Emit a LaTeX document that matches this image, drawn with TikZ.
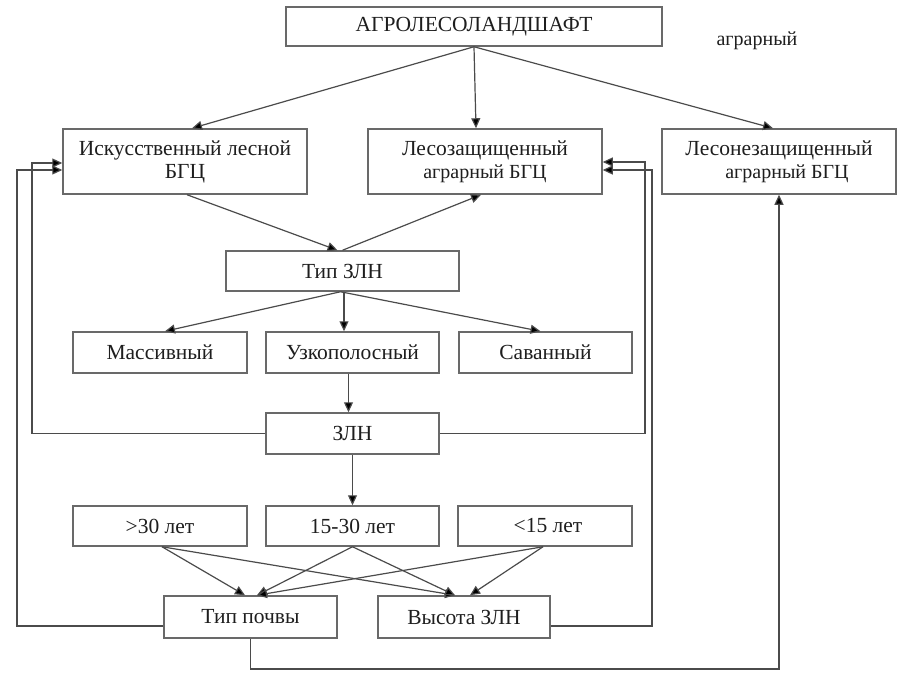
\documentclass[tikz,border=0pt]{standalone}
\usepackage{fontspec}
\setmainfont{Liberation Serif}
\usetikzlibrary{arrows.meta}
\definecolor{boxc}{RGB}{105,105,105}
\definecolor{linec}{RGB}{75,75,75}
\definecolor{textc}{RGB}{30,30,30}
\begin{document}
\begin{tikzpicture}[x=1pt,y=-1pt,
  box/.style={draw=boxc, line width=1.5pt, rectangle, inner sep=0pt, align=center,
     text=textc, font=\fontsize{21.5}{22}\selectfont},
  arr/.style={draw=linec, line width=1.2pt, -{Triangle[length=10pt,width=9pt,fill=black]}},
  ln/.style={draw=linec, line width=1.2pt}]
\useasboundingbox (0,0) rectangle (903,677);

\node[box, minimum width=376pt, minimum height=39pt] (top) at (474,26.5) {АГРОЛЕСОЛАНДШАФТ};
\node[text=textc, font=\fontsize{20}{20}\selectfont] (agr) at (757,41) {аграрный};

\node[box, minimum width=244pt, minimum height=65pt] (iskus) at (185,161.5) {Искусственный лесной\\[1pt]БГЦ};
\node[box, minimum width=234pt, minimum height=65pt] (lesoz) at (485,161.5) {Лесозащищенный\\[1pt]{\fontsize{20}{20}\selectfont аграрный БГЦ}};
\node[box, minimum width=234pt, minimum height=65pt] (lesonez) at (779,161.5) {Лесонезащищенный\\[1pt]{\fontsize{20}{20}\selectfont\hspace*{16pt}аграрный БГЦ}};

\node[box, minimum width=233pt, minimum height=40pt] (tipzln) at (342.5,271) {Тип ЗЛН};

\node[box, minimum width=174pt, minimum height=41pt] (mass) at (160,352.5) {Массивный};
\node[box, minimum width=173pt, minimum height=41pt] (uzko) at (352.5,352.5) {Узкополосный};
\node[box, minimum width=173pt, minimum height=41pt] (savan) at (545.5,352.5) {Саванный};

\node[box, minimum width=173pt, minimum height=41pt] (zln) at (352.5,433.5) {ЗЛН};

\node[box, minimum width=174pt, minimum height=40pt] (g30) at (160,526) {>30 лет};
\node[box, minimum width=173pt, minimum height=40pt] (m15) at (352.5,526) {15-30 лет};
\node[box, minimum width=174pt, minimum height=40pt] (l15) at (545,526) {\hspace*{6pt}<15 лет};

\node[box, minimum width=173pt, minimum height=42pt] (tippoch) at (250.5,617) {Тип почвы};
\node[box, minimum width=172pt, minimum height=42pt] (vys) at (464,617) {Высота ЗЛН};

% coordinates for feedback lines
\coordinate (L1) at (32,433.5);
\coordinate (L2) at (17,626);
\coordinate (R1) at (645,433.5);
\coordinate (R2) at (652,626);
\coordinate (B1) at (250.5,669);

% top arrows
\draw[arr] (top.south) -- ([xshift=7pt]iskus.north);
\draw[arr] (top.south) -- ([xshift=-9pt]lesoz.north);
\draw[arr] (top.south) -- ([xshift=-6pt]lesonez.north);

% to/from Tip ZLN
\draw[arr] ([xshift=2pt]iskus.south) -- ([xshift=-5pt]tipzln.north);
\draw[arr] (tipzln.north) -- ([xshift=-4pt]lesoz.south);

\draw[arr] ([xshift=-2pt]tipzln.south) -- ([xshift=5pt]mass.north);
\draw[arr] ([xshift=1.5pt]tipzln.south) -- ([xshift=1.5pt]tipzln.south |- uzko.north);
\draw[arr] ([xshift=-2pt]tipzln.south) -- ([xshift=-5pt]savan.north);

\draw[arr] ([xshift=-4pt]uzko.south) -- ([xshift=-4pt]zln.north);
\draw[arr] (zln.south) -- (m15.north);

% feedback left
\draw[arr] (zln.west) -- (L1) |- ([yshift=-1.5pt]iskus.west);
\draw[arr] ([yshift=-9pt]tippoch.west) -- (L2) |- ([yshift=-8.5pt]iskus.west);
% feedback right
\draw[arr] (zln.east) -- (R1) |- ([yshift=-0.5pt]lesoz.east);
\draw[arr] ([yshift=-9pt]vys.east) -- (R2) |- ([yshift=-8.5pt]lesoz.east);
% bottom
\draw[arr] (tippoch.south) -- (B1) -| (lesonez.south);

% crossing arrows
\draw[arr] ([xshift=2pt]g30.south) -- ([xshift=-5.5pt]tippoch.north);
\draw[arr] ([xshift=2pt]g30.south) -- ([xshift=-9pt]vys.north);
\draw[arr] (m15.south) -- ([xshift=6.5pt]tippoch.north);
\draw[arr] (m15.south) -- ([xshift=-9pt]vys.north);
\draw[arr] ([xshift=-2pt]l15.south) -- ([xshift=6.5pt]tippoch.north);
\draw[arr] ([xshift=-2pt]l15.south) -- ([xshift=6pt]vys.north);
\end{tikzpicture}
\end{document}
